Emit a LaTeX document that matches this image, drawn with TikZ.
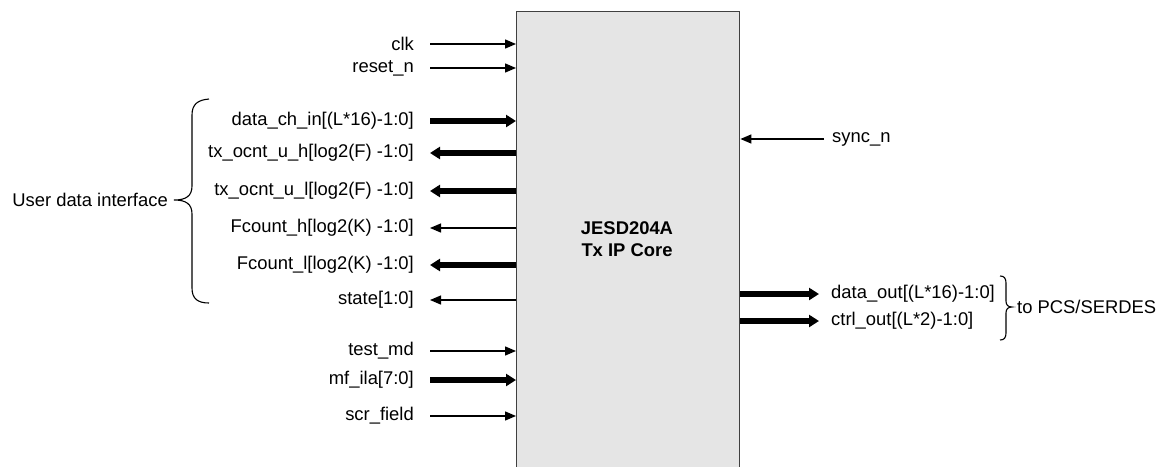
\documentclass[tikz,border=0pt]{standalone}
\usepackage{fontspec}
\setmainfont{Liberation Sans}
\usetikzlibrary{arrows.meta}
\begin{document}
\begin{tikzpicture}[x=1pt,y=-1pt,
  lbl/.style={inner sep=0pt,font=\fontsize{18.4}{21}\selectfont},
  thin/.style={line width=1.3pt,-{Triangle[length=11pt,width=9pt]}},
  thick/.style={line width=5.5pt,-{Triangle[length=10pt,width=12pt]}},
  brc/.style={line width=1.1pt}]
\useasboundingbox (0,0) rectangle (1162,466);
\node[draw=black!75,line width=1.4pt,fill=black!10,minimum width=223pt,minimum height=470pt,anchor=north west,inner sep=0pt] (core) at (516,11) {};
\node[lbl,align=center,font=\bfseries\fontsize{18.4}{22}\selectfont] (title) at (627,239) {JESD204A\\Tx IP Core};
% left inputs
\foreach \n/\t/\y/\s/\d in {clk/clk/44/thin/in, rst/reset\_n/68/thin/in, dci/{data\_ch\_in[(L*16)-1:0]}/121/thick/in,
  tuh/{tx\_ocnt\_u\_h[log2(F) -1:0]}/153/thick/out, tul/{tx\_ocnt\_u\_l[log2(F) -1:0]}/191/thick/out,
  fch/{Fcount\_h[log2(K) -1:0]}/228/thin/out, fcl/{Fcount\_l[log2(K) -1:0]}/265/thick/out,
  st/{state[1:0]}/300/thin/out, tm/test\_md/351/thin/in, mf/{mf\_ila[7:0]}/380/thick/in, scr/scr\_field/416/thin/in}{
  \node[lbl,anchor=east] (\n) at (414,\y) {\t};
  \coordinate (\n s) at (430,\y);
  \coordinate (\n e) at (core.west |- 0,\y);
  \ifnum\pdfstrcmp{\d}{in}=0
    \draw[\s] (\n s) -- (\n e);
  \else
    \draw[\s] (\n e) -- (\n s);
  \fi
}
% sync_n
\node[lbl,anchor=west] (sync) at (832,139) {sync\_n};
\coordinate (syncs) at (824,139);
\coordinate (synce) at (core.east |- 0,139);
\draw[thin] (syncs) -- (synce);
% outputs
\node[lbl,anchor=west] (dout) at (831,294) {data\_out[(L*16)-1:0]};
\node[lbl,anchor=west] (cout) at (831,321) {ctrl\_out[(L*2)-1:0]};
\coordinate (douts) at (core.east |- 0,294);
\coordinate (doute) at (819,294);
\coordinate (couts) at (core.east |- 0,321);
\coordinate (coute) at (819,321);
\draw[thick] (douts) -- (doute);
\draw[thick] (couts) -- (coute);
% braces
\draw[brc] (209,99) .. controls (198,100) and (192,104) .. (192,115) -- (192,186)
  .. controls (192,196) and (186,200) .. (174,200)
  .. controls (186,200) and (192,204) .. (192,214) -- (192,288)
  .. controls (192,299) and (198,303) .. (209,303);
\node[lbl,anchor=east] (udi) at (168,200) {User data interface};
\draw[brc] (1000,276) .. controls (1004,276) and (1006,278) .. (1006,283) -- (1006,301)
  .. controls (1006,305) and (1008,307) .. (1012,307)
  .. controls (1008,307) and (1006,309) .. (1006,313) -- (1006,333)
  .. controls (1006,338) and (1004,340) .. (1000,340);
\node[lbl,anchor=west] (pcs) at (1017,307) {to PCS/SERDES};
\end{tikzpicture}
\end{document}
